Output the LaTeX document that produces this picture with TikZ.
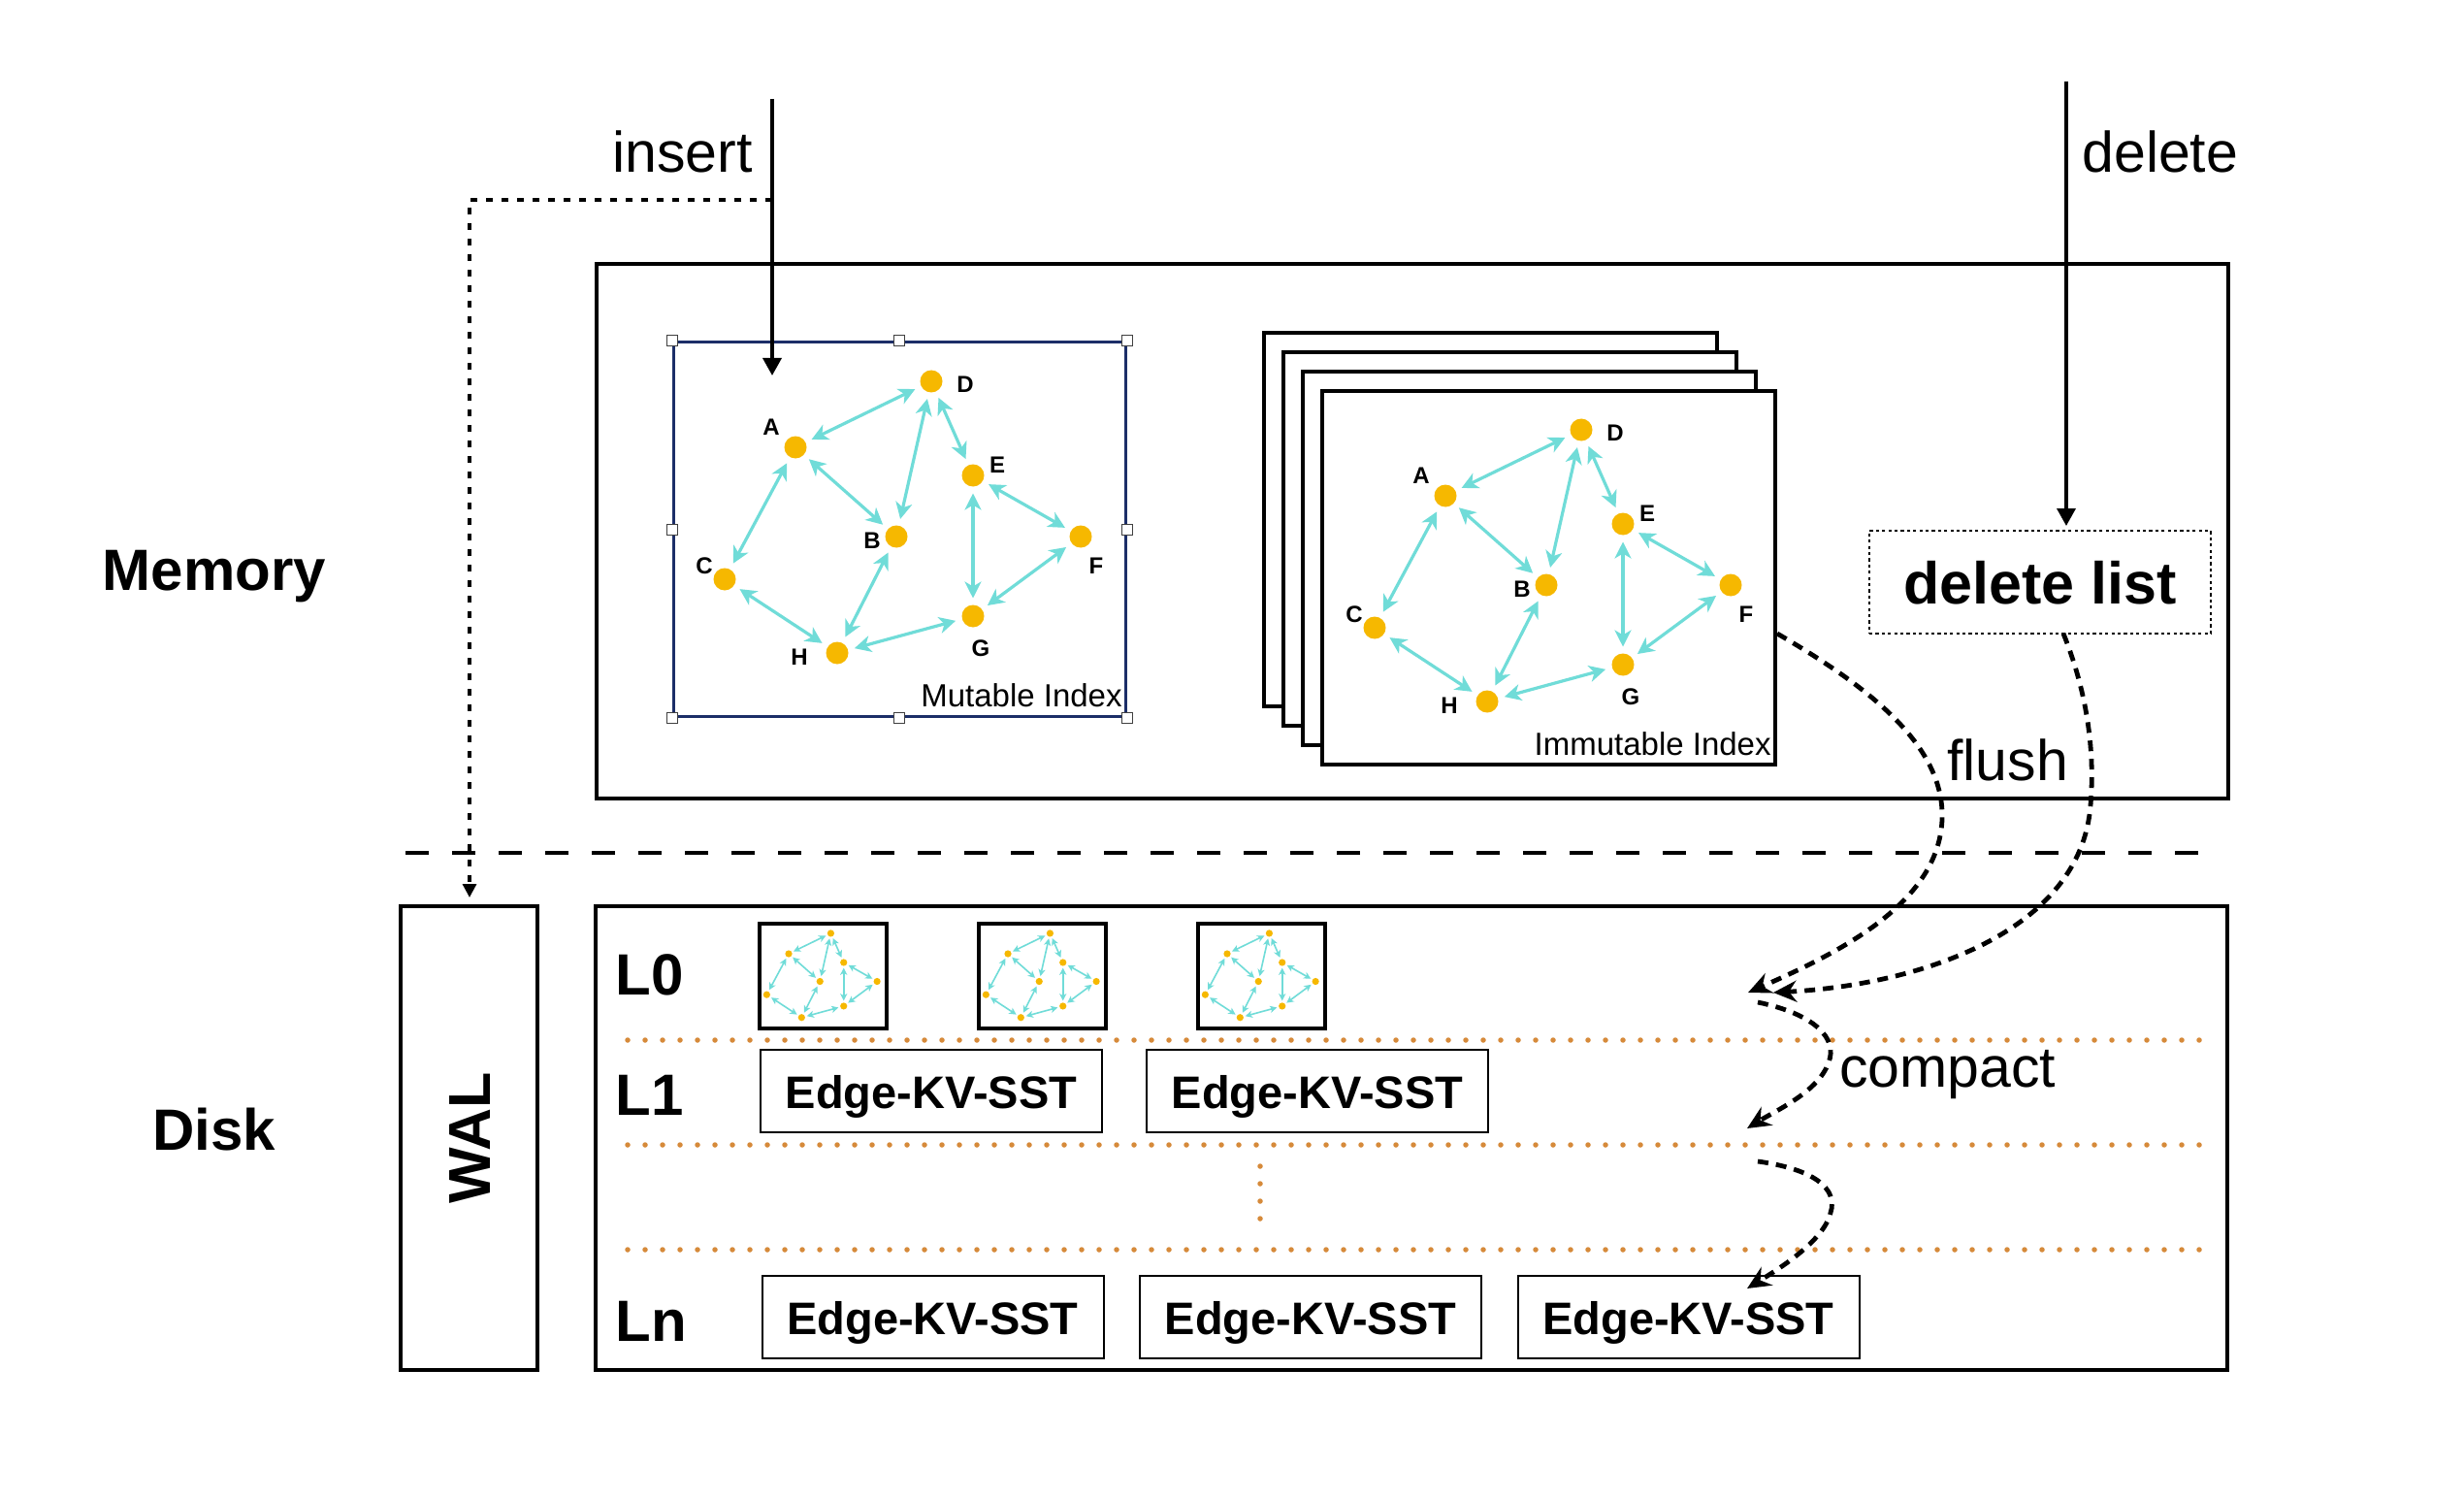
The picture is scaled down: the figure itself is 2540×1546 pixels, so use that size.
\documentclass[tikz,border=0pt]{standalone}
\usepackage{fontspec}
\setmainfont{Liberation Sans}
\usetikzlibrary{arrows.meta}
\definecolor{gcyan}{RGB}{112,220,216}
\definecolor{gorange}{RGB}{246,184,0}
\definecolor{dotor}{RGB}{214,138,58}
\definecolor{navy}{RGB}{28,46,104}
\newcommand{\graphnodes}{%
  \node[gnode] (A) at (0,0) {};
  \node[gnode] (B) at (104,92) {};
  \node[gnode] (C) at (-73,136) {};
  \node[gnode] (D) at (140,-68) {};
  \node[gnode] (E) at (183,29) {};
  \node[gnode] (F) at (294,92) {};
  \node[gnode] (G) at (183,174) {};
  \node[gnode] (H) at (43,212) {};
  \foreach \u/\v in {A/D,A/B,A/C,D/B,D/E,E/G,E/F,F/G,B/H,C/H,H/G}{\draw[gedge] (\u) -- (\v);}%
}
\newcommand{\graphlabels}{%
  \node[glabel] (lA) at (-25,-21) {A};
  \node[glabel] (lB) at (79,96) {B};
  \node[glabel] (lC) at (-94,122) {C};
  \node[glabel] (lD) at (175,-65) {D};
  \node[glabel] (lE) at (208,18) {E};
  \node[glabel] (lF) at (310,122) {F};
  \node[glabel] (lG) at (191,207) {G};
  \node[glabel] (lH) at (4,216) {H};
}
\begin{document}
\begin{tikzpicture}[x=0.5pt,y=-0.5pt,
  bigbox/.style={draw, line width=2pt, inner sep=0, fill=white},
  stackbox/.style={draw, line width=1.65pt, fill=white, inner sep=0, minimum width=233.5pt, minimum height=192.5pt},
  sst/.style={draw, line width=1pt, inner sep=0, minimum width=176pt, minimum height=42.5pt, text height=18pt, text depth=0.5pt, font=\bfseries\fontsize{23.5}{24}\selectfont},
  thumb/.style={draw, line width=2pt, inner sep=0, minimum width=65.5pt, minimum height=54pt},
  lbl/.style={inner sep=0, font=\fontsize{29.5}{30}\selectfont},
  blbl/.style={inner sep=0, font=\bfseries\fontsize{30}{30}\selectfont},
  idxlbl/.style={inner sep=0, font=\fontsize{16.5}{17}\selectfont},
  glabel/.style={inner sep=0, font=\bfseries\fontsize{12}{12}\selectfont},
  bignode/.style={circle, fill=gorange, inner sep=0, minimum size=11.5pt, outer sep=3.5pt},
  bigedge/.style={draw=gcyan, line width=1.6pt, {Stealth[length=8.5pt,width=8.5pt,inset=2.5pt]}-{Stealth[length=8.5pt,width=8.5pt,inset=2.5pt]}},
  smallnode/.style={circle, fill=gorange, inner sep=0, minimum size=3.6pt, outer sep=1pt},
  smalledge/.style={draw=gcyan, line width=0.8pt, {Stealth[length=3.6pt,width=3.6pt,inset=1pt]}-{Stealth[length=3.6pt,width=3.6pt,inset=1pt]}},
  flow/.style={line width=2.4pt, dash pattern=on 5.5pt off 4pt, -{Stealth[length=12pt,width=11pt,inset=4pt]}},
  solidarrow/.style={line width=1.75pt, -{Triangle[length=9pt,width=9.5pt]}},
  orangedots/.style={draw=dotor, line width=2.75pt, line cap=round, dash pattern=on 0pt off 9pt},
  handle/.style={draw=black!75, fill=white, line width=0.5pt, inner sep=0, minimum size=5.5pt}
]
\useasboundingbox (0,0) rectangle (2540,1546);

% ---------- side labels ----------
\node[blbl, anchor=base] (memlbl) at (221,608) {Memory};
\node[blbl, anchor=base] (disklbl) at (221,1185) {Disk};

% ---------- memory box ----------
\node[bigbox, minimum width=841pt, minimum height=275.5pt] (mem) at (1456,547.5) {};

% mutable index
\node[draw=navy, line width=1.5pt, inner sep=0, minimum width=233pt, minimum height=192.5pt] (mutbox) at (927,545.5) {};
\begin{scope}[shift={(820,461)}, name prefix=mut-, gnode/.style={bignode}, gedge/.style={bigedge}]
  \graphnodes
  \graphlabels
\end{scope}
\foreach \a [count=\i] in {north west,north,north east,west,east,south west,south,south east}
  \node[handle] (hd\i) at (mutbox.\a) {};
\node[idxlbl, anchor=base east] (mutlbl) at (1157,728) {Mutable Index};

% immutable index stack
\node[stackbox] (imm1) at (1536.5,535.5) {};
\node[stackbox] (imm2) at (1556.5,555.5) {};
\node[stackbox] (imm3) at (1576.5,575.5) {};
\node[stackbox] (imm4) at (1596.5,595.5) {};
\begin{scope}[shift={(1490,511)}, name prefix=imm-, gnode/.style={bignode}, gedge/.style={bigedge}]
  \graphnodes
  \graphlabels
\end{scope}
\node[idxlbl, anchor=base east] (immlbl) at (1826,778) {Immutable Index};

% delete list
\node[draw, line width=0.8pt, dash pattern=on 1.6pt off 1.6pt, inner sep=0, minimum width=176pt, minimum height=53pt, text height=22pt, text depth=0pt, font=\bfseries\fontsize{30.5}{31}\selectfont] (dellist) at (2103,600) {delete list};

% ---------- insert / delete ----------
\coordinate (insTop) at (796,102);
\coordinate (insTip) at (796,387);
\coordinate (insBend) at (796,206);
\coordinate (walCorner) at (484,206);
\coordinate (walTip) at (484,925);
\draw[solidarrow] (insTop) -- (insTip);
\node[lbl, anchor=base east] (instxt) at (776,178) {insert};
\draw[line width=1.6pt, dash pattern=on 3.5pt off 4.5pt, -{Triangle[length=7pt,width=7pt]}] (insBend) -- (walCorner) -- (walTip);

\coordinate (delTop) at (2130,84);
\coordinate (delTip) at (2130,542);
\draw[solidarrow] (delTop) -- (delTip);
\node[lbl, anchor=base west] (deltxt) at (2146,178) {delete};

% ---------- separator ----------
\coordinate (sepL) at (418,879);
\coordinate (sepR) at (2266,879);
\draw[line width=1.75pt, dash pattern=on 12pt off 12pt] (sepL) -- (sepR);

% ---------- disk ----------
\node[bigbox, rotate=90, minimum width=239pt, minimum height=70.5pt, text height=22pt, text depth=0pt, font=\bfseries\fontsize{30.5}{31}\selectfont] (wal) at (483.5,1173) {WAL};
\node[bigbox, minimum width=841pt, minimum height=239pt] (disk) at (1455,1173) {};

% level separators
\coordinate (d1L) at (647,1072); \coordinate (d1R) at (2267,1072);
\coordinate (d2L) at (647,1180); \coordinate (d2R) at (2267,1180);
\coordinate (d3L) at (647,1288); \coordinate (d3R) at (2267,1288);
\coordinate (vdT) at (1299,1202); \coordinate (vdB) at (1299,1256);
\draw[orangedots] (d1L) -- (d1R);
\draw[orangedots] (d2L) -- (d2R);
\draw[orangedots] (d3L) -- (d3R);
\draw[orangedots] (vdT) -- (vdB);

\node[blbl, anchor=base west] (L0) at (634,1025) {L0};
\node[blbl, anchor=base west] (L1) at (634,1149) {L1};
\node[blbl, anchor=base west] (Ln) at (634,1382) {Ln};

% L0 thumbnails
\node[thumb] (t1) at (848.5,1006) {};
\node[thumb] (t2) at (1074.5,1006) {};
\node[thumb] (t3) at (1300.5,1006) {};
\begin{scope}[shift={(813,983)}, scale=0.31, name prefix=t1-, gnode/.style={smallnode}, gedge/.style={smalledge}]
  \graphnodes
\end{scope}
\begin{scope}[shift={(1039,983)}, scale=0.31, name prefix=t2-, gnode/.style={smallnode}, gedge/.style={smalledge}]
  \graphnodes
\end{scope}
\begin{scope}[shift={(1265,983)}, scale=0.31, name prefix=t3-, gnode/.style={smallnode}, gedge/.style={smalledge}]
  \graphnodes
\end{scope}

% SST boxes
\node[sst] (s11) at (960,1124.5) {Edge-KV-SST};
\node[sst] (s12) at (1358,1124.5) {Edge-KV-SST};
\node[sst] (sn1) at (961.5,1357.5) {Edge-KV-SST};
\node[sst] (sn2) at (1351,1357.5) {Edge-KV-SST};
\node[sst] (sn3) at (1740.5,1357.5) {Edge-KV-SST};

% ---------- flush / compact ----------
\coordinate (fl0) at (1832,653);
\coordinate (fl1) at (2002,845);
\coordinate (flTip) at (1802,1023);
\coordinate (dl0) at (2127,653);
\coordinate (dl1) at (2155,830);
\coordinate (dlTip) at (1828,1023);
\draw[flow] (fl0) .. controls (1930,710) and (2005,770) .. (fl1) .. controls (1998,930) and (1900,980) .. (flTip);
\draw[flow] (dl0) .. controls (2150,710) and (2160,770) .. (dl1) .. controls (2145,960) and (1980,1015) .. (dlTip);
\node[lbl, anchor=base west] (flushtxt) at (2007,804) {flush};

\coordinate (c10) at (1812,1033);
\coordinate (c11) at (1885,1095);
\coordinate (c1Tip) at (1801,1163);
\draw[flow] (c10) .. controls (1870,1045) and (1895,1070) .. (c11) .. controls (1875,1125) and (1830,1145) .. (c1Tip);
\coordinate (c20) at (1812,1197);
\coordinate (c21) at (1887,1250);
\coordinate (c2Tip) at (1801,1328);
\draw[flow] (c20) .. controls (1870,1205) and (1895,1225) .. (c21) .. controls (1880,1280) and (1830,1310) .. (c2Tip);
\node[lbl, anchor=base west] (compacttxt) at (1896,1120) {compact};
\end{tikzpicture}
\end{document}
